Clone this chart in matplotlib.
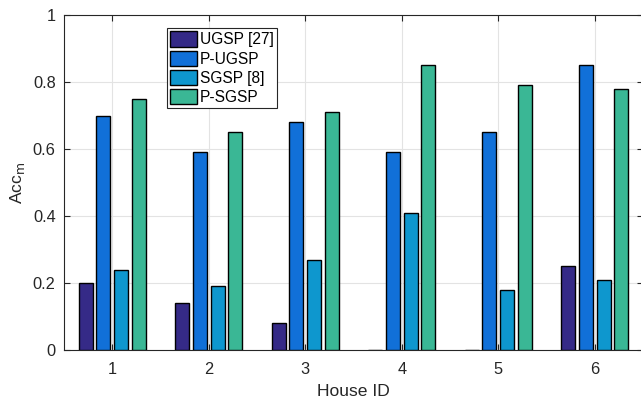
import numpy as np
import matplotlib
matplotlib.use("Agg")
import matplotlib.pyplot as plt

plt.rcParams['font.family'] = ['Liberation Sans', 'DejaVu Sans']

houses = [1, 2, 3, 4, 5, 6]
series_names = ['UGSP [27]', 'P-UGSP', 'SGSP [8]', 'P-SGSP']
ugsp = [0.20, 0.14, 0.08, 0.00, 0.00, 0.25]
p_ugsp = [0.70, 0.59, 0.68, 0.59, 0.65, 0.85]
sgsp = [0.24, 0.19, 0.27, 0.41, 0.18, 0.21]
p_sgsp = [0.75, 0.65, 0.71, 0.85, 0.79, 0.78]
y_ticks = [0, 0.2, 0.4, 0.6, 0.8, 1]
y_tick_labels = ['0', '0.2', '0.4', '0.6', '0.8', '1']

colors = ['#352A87', '#1170D8', '#0E97CE', '#3AB795']
series = [ugsp, p_ugsp, sgsp, p_sgsp]

fig = plt.figure(figsize=(6.41, 4.0), dpi=100)
# axes box spans the whole plotting region (right edge runs slightly past the canvas)
ax = fig.add_axes([64 / 641, 50 / 400, 579 / 641, 335 / 400])

n = len(series)
group_width = min(0.8, n / (n + 1.5))
step = group_width / n
bar_w = step * 0.8
x = np.array(houses, dtype=float)
for i, (vals, name, c) in enumerate(zip(series, series_names, colors)):
    offs = (i - (n - 1) / 2) * step
    ax.bar(x + offs, vals, width=bar_w, color=c, edgecolor='black',
           linewidth=1.0, label=name, zorder=3)

ax.set_xlim(0.5, 6.5)
ax.set_ylim(0, 1)
ax.set_xticks(houses)
ax.set_xticklabels([str(h) for h in houses])
ax.set_yticks(y_ticks)
ax.set_yticklabels(y_tick_labels)

ax.grid(True, color='#e3e3e3', linewidth=0.8, zorder=0)
ax.set_axisbelow(True)
for s in ax.spines.values():
    s.set_color('#262626')
    s.set_linewidth(0.8)
ax.tick_params(direction='in', length=4, width=0.8, colors='#262626',
               labelsize=11.8, top=True, right=True)
ax.tick_params(axis='x', pad=9)
ax.tick_params(axis='y', pad=6)
for lab in ax.get_xticklabels() + ax.get_yticklabels():
    lab.set_color('#262626')

ax.set_xlabel('House ID', fontsize=12.6, color='#262626', labelpad=5)
ax.set_ylabel(r'Acc$_\mathrm{m}$', fontsize=12.6, color='#262626', labelpad=4)

leg = ax.legend(loc='upper left', bbox_to_anchor=(103 / 579, 322 / 335),
                fontsize=11.2, frameon=True, fancybox=False, framealpha=1,
                edgecolor='#262626', borderpad=0.22, labelspacing=0.2,
                handlelength=1.7, handleheight=1.15, handletextpad=0.2,
                borderaxespad=0)
leg.get_frame().set_linewidth(0.8)

fig.savefig('out.png', dpi=100)
